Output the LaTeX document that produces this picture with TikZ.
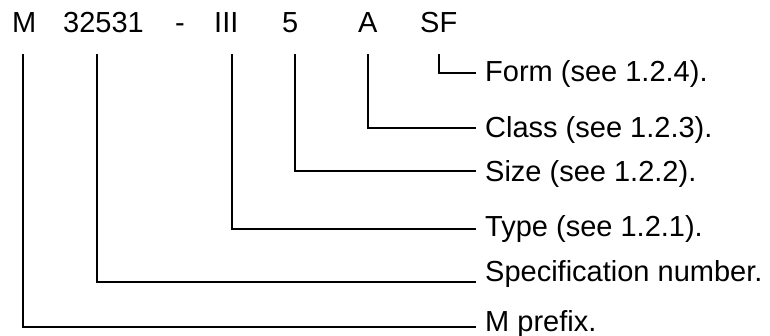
\documentclass[tikz,border=0pt]{standalone}
\usepackage{fontspec}
\setmainfont{Liberation Sans}
\usetikzlibrary{calc}
\begin{document}
\begin{tikzpicture}[x=1pt,y=1pt,
  txt/.style={inner sep=0pt,anchor=base west,font=\fontsize{29}{35}\selectfont},
  conn/.style={line width=1.7pt,line join=miter}]
\useasboundingbox (0,0) rectangle (770,-336);
% code parts
\node[txt] (cM) at (12,-33) {M};
\node[txt] (cNum) at (63,-33) {32531};
\node[txt] (cDash) at (175,-33) {-};
\node[txt] (cIII) at (214,-33) {III};
\node[txt] (c5) at (282,-33) {5};
\node[txt] (cA) at (358,-33) {A};
\node[txt] (cSF) at (420,-33) {SF};
% labels
\node[txt] (lForm) at (485,-82) {Form (see 1.2.4).};
\node[txt] (lClass) at (485,-138) {Class (see 1.2.3).};
\node[txt] (lSize) at (485,-182) {Size (see 1.2.2).};
\node[txt] (lType) at (485,-237) {Type (see 1.2.1).};
\node[txt] (lSpec) at (485,-282) {Specification number.};
\node[txt] (lM) at (485,-331) {M prefix.};
% connectors
\draw[conn] ($(cSF.base west)+(19,-21)$) |- ($(lForm.base west)+(-9,9)$);
\draw[conn] ($(cA.base west)+(10,-21)$) |- ($(lClass.base west)+(-9,10)$);
\draw[conn] ($(c5.base west)+(13,-21)$) |- ($(lSize.base west)+(-9,11)$);
\draw[conn] ($(cIII.base west)+(18,-21)$) |- ($(lType.base west)+(-9,8)$);
\draw[conn] ($(cNum.base west)+(34,-21)$) |- ($(lSpec.base west)+(-9,0)$);
\draw[conn] ($(cM.base west)+(11,-21)$) |- ($(lM.base west)+(-9,4)$);
\end{tikzpicture}
\end{document}
